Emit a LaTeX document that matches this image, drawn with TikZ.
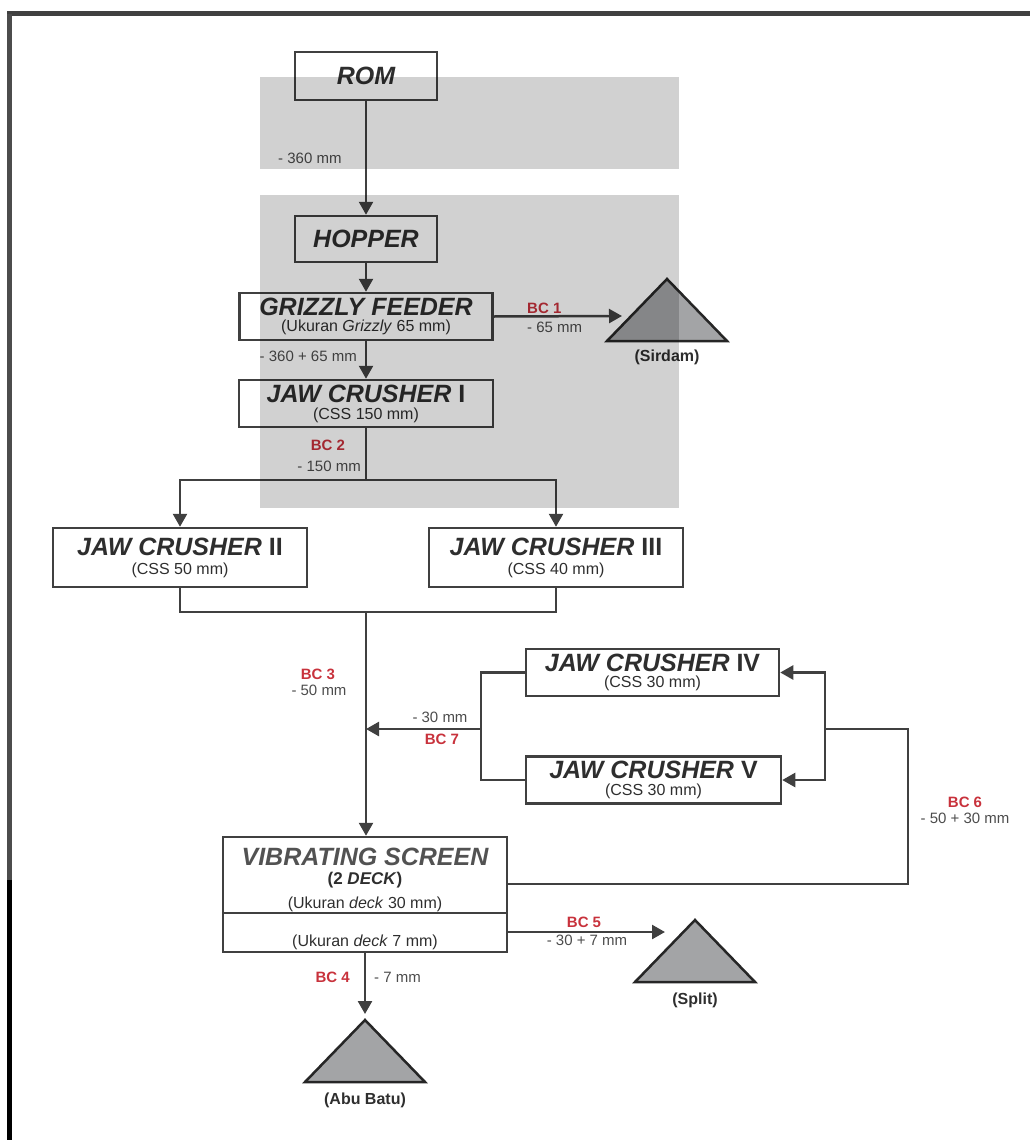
\documentclass[tikz,border=0pt]{standalone}
\usepackage{fontspec}
\setmainfont{Liberation Sans}
\usetikzlibrary{arrows.meta,positioning}

\definecolor{linegray}{HTML}{404040}
\definecolor{textgray}{HTML}{2E2E2E}
\definecolor{bcred}{HTML}{C8323C}
\definecolor{pilegray}{HTML}{A3A4A6}

\newcommand{\titlef}{\fontsize{25}{25}\selectfont\bfseries\itshape}
\newcommand{\subf}{\fontsize{16}{25}\selectfont\mdseries\upshape}

\tikzset{
  unit/.style={draw=linegray, line width=2.5pt, inner sep=0pt, minimum height=47pt,
    minimum width=254pt, align=center, text=textgray, font=\fontsize{16}{25}\selectfont},
  flow/.style={draw=linegray, line width=2.5pt, -{Triangle[length=13pt,width=14pt]}},
  pipe/.style={draw=linegray, line width=2.5pt},
  size/.style={font=\fontsize{15}{15}\selectfont, text=black!70, inner sep=0pt},
  bc/.style={font=\fontsize{15}{15}\selectfont\bfseries, text=bcred, inner sep=0pt},
  pile/.style={fill=pilegray, draw=black!85, line width=2.5pt},
  pilename/.style={font=\fontsize{16}{16}\selectfont\bfseries, text=textgray, inner sep=0pt},
  zone/.style={fill=black, fill opacity=0.18}
}

\begin{document}
\begin{tikzpicture}[x=1pt,y=-1pt]
    \useasboundingbox (0,0) rectangle (1030,1140);
    % Frame
    \draw[line width=5pt, black!75] (7,14) -- (1030,14);
    \draw[line width=5pt, black!70] (9,14) -- (9,880);
    \draw[line width=5pt, black] (9,880) -- (9,1140);

    % Units
    \node[unit, minimum width=142pt, minimum height=48pt] (rom) at (366,76) {\titlef ROM};
    \node[unit, minimum width=142pt, minimum height=46pt] (hopper) at (366,239) {\titlef HOPPER};
    \node[unit, minimum width=253pt] (grizzly) at (366,316.5)
        {{\titlef GRIZZLY FEEDER}\\[-9pt]{\subf (Ukuran \textit{Grizzly} 65 mm)}};
    \node[unit] (jc1) at (366,403.5)
        {{\titlef JAW CRUSHER \upshape I}\\[-8pt]{\subf (CSS 150 mm)}};
    \node[unit, minimum height=59pt] (jc2) at (180,557.5)
        {{\titlef JAW CRUSHER \upshape II}\\[-6pt]{\subf (CSS 50 mm)}};
    \node[unit, minimum height=59pt] (jc3) at (556,557.5)
        {{\titlef JAW CRUSHER \upshape III}\\[-6pt]{\subf (CSS 40 mm)}};
    \node[unit, minimum width=253pt] (jc4) at (652.5,672.5)
        {{\titlef JAW CRUSHER \upshape IV}\\[-9pt]{\subf (CSS 30 mm)}};
    \node[unit, minimum width=255pt] (jc5) at (653.5,780)
        {{\titlef JAW CRUSHER \upshape V}\\[-8pt]{\subf (CSS 30 mm)}};

    % Vibrating screen
    \node[unit, minimum width=284pt, minimum height=115pt] (screen) at (365,894.5) {};
    \node[font=\titlef, text=black!68, inner sep=0pt] (scrtitle) at (365,857) {VIBRATING SCREEN};
    \node[font=\fontsize{17}{17}\selectfont\bfseries, text=textgray, inner sep=0pt] (scrdeck) at (365,880) {(2 \textit{DECK})};
    \node[font=\subf, text=textgray, inner sep=0pt] (deckone) at (365,904) {(Ukuran \textit{deck} 30 mm)};
    \coordinate (deckline) at (365,913);
    \draw[pipe] (screen.west |- deckline) -- (screen.east |- deckline);
    \node[font=\subf, text=textgray, inner sep=0pt] (decktwo) at (365,942) {(Ukuran \textit{deck} 7 mm)};

    % Stockpiles
    \draw[pile] (607,341) -- (667,279) -- (727,341) -- cycle;
    \node[pilename] (sirdam) at (667,357) {(Sirdam)};
    \coordinate (sirdamin) at (622,316);
    \draw[pile] (635,982) -- (695,920) -- (755,982) -- cycle;
    \node[pilename] (split) at (695,1000) {(Split)};
    \coordinate (splitin) at (665,932);
    \draw[pile] (305,1082) -- (365,1020) -- (425,1082) -- cycle;
    \node[pilename] (abubatu) at (365,1100) {(Abu Batu)};
    \coordinate (abuin) at (365,1014);

    % Junctions
    \coordinate (fork) at (366,480);
    \coordinate (merge) at (366,612);
    \coordinate (bc7) at (481,729);
    \coordinate (ret) at (825,729);
    \coordinate (bc6) at (908,729);

    % Flow lines
    \draw[flow] (rom) -- (hopper);
    \draw[flow] (hopper) -- (grizzly);
    \draw[flow] (grizzly) -- (jc1);
    \draw[flow] (grizzly.east) -- (sirdamin);
    \draw[pipe] (jc1.south) -- (fork);
    \draw[flow] (fork) -| (jc2.north);
    \draw[flow] (fork) -| (jc3.north);
    \draw[pipe] (jc2.south) |- (merge) -| (jc3.south);
    \draw[flow] (merge) -- (merge |- screen.north);
    \draw[pipe] (jc4.west) -| (bc7);
    \draw[pipe] (jc5.west) -| (bc7);
    \draw[flow] (bc7) -- (bc7 -| merge);
    \draw[pipe] ([yshift=10.5pt]screen.east) -| (bc6) -- (ret);
    \draw[flow] (ret) |- (jc4.east);
    \draw[flow] (ret) |- (jc5.east);
    \draw[flow] ([yshift=-37.5pt]screen.east) -- (splitin);
    \draw[flow] (screen.south) -- (abuin);

    % Size labels
    \node[size, anchor=west] (s360) at (278,158) {- 360 mm};
    \node[size, anchor=east] (s36065) at (357,356) {- 360 + 65 mm};
    \node[bc, anchor=west] (bc1) at (527,308) {BC 1};
    \node[size, anchor=west] (s65) at (527,327) {- 65 mm};
    \node[bc] (bc2) at (328,445) {BC 2};
    \node[size, anchor=east] (s150) at (361,466) {- 150 mm};
    \node[bc] (bc3) at (318,674) {BC 3};
    \node[size] (s50) at (319,690) {- 50 mm};
    \node[size] (s30) at (440,717) {- 30 mm};
    \node[bc] (bc7lbl) at (442,739) {BC 7};
    \node[bc] (bc6lbl) at (965,802) {BC 6};
    \node[size] (s5030) at (965,818) {- 50 + 30 mm};
    \node[bc] (bc5) at (584,922) {BC 5};
    \node[size] (s307) at (587,940) {- 30 + 7 mm};
    \node[bc, anchor=east] (bc4) at (350,977) {BC 4};
    \node[size, anchor=west] (s7) at (374,977) {- 7 mm};

    % Gray zones
    \fill[zone] (260,77) rectangle (679,169);
    \fill[zone] (260,195) rectangle (679,508);
\end{tikzpicture}
\end{document}
